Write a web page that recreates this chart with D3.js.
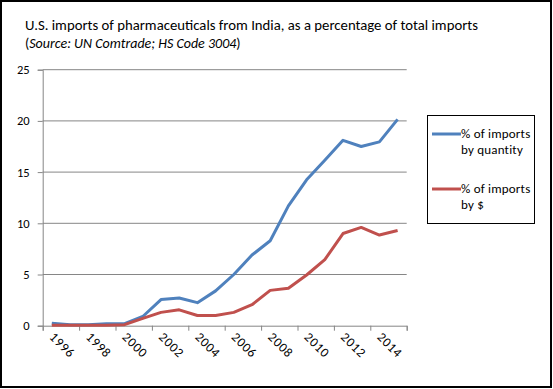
<!DOCTYPE html>
<html>
<head>
<meta charset="utf-8">
<script src="https://cdn.jsdelivr.net/npm/d3@7"></script>
<style>
  body { margin: 0; background: #fff; }
  svg { display: block; font-family: Carlito, Lato, sans-serif; }
</style>
</head>
<body>
<div id="chart"></div>
<script>
// values
const years = d3.range(1996, 2016);
const byQuantity = [0.25, 0.1, 0.1, 0.2, 0.2, 0.9, 2.55, 2.7, 2.25, 3.4, 5.0, 6.9, 8.3, 11.7, 14.25, 16.15, 18.1, 17.5, 17.95, 20.15];
const byValue = [0.05, 0.05, 0.05, 0.05, 0.1, 0.72, 1.3, 1.55, 1.0, 1.0, 1.3, 2.05, 3.45, 3.65, 4.95, 6.45, 9.0, 9.6, 8.85, 9.3];
const yTicks = [0, 5, 10, 15, 20, 25];
const xLabelYears = [1996, 1998, 2000, 2002, 2004, 2006, 2008, 2010, 2012, 2014];
const seriesNames = [["% of imports", "by quantity"], ["% of imports", "by $"]];
const colors = ["#4F81BD", "#C0504D"];

const W = 553, H = 389;
const svg = d3.select("#chart").append("svg").attr("width", W).attr("height", H);

svg.append("rect").attr("x", 1).attr("y", 1).attr("width", W - 3).attr("height", H - 3)
  .attr("fill", "#fff").attr("stroke", "#000").attr("stroke-width", 2);

// title
svg.append("text").attr("x", 25).attr("y", 30).attr("font-size", 14).attr("fill", "#000")
  .attr("textLength", 453).attr("lengthAdjust", "spacingAndGlyphs")
  .text("U.S. imports of pharmaceuticals from India, as a percentage of total imports");
const sub = svg.append("text").attr("x", 25).attr("y", 48).attr("font-size", 14).attr("fill", "#000");
sub.append("tspan").text("(");
sub.append("tspan").attr("font-style", "italic").text("Source: UN Comtrade; HS Code 3004");
sub.append("tspan").text(")");

const pLeft = 42.7, pRight = 406.7, pTop = 69.7, pBottom = 325.7;

const x = d3.scaleBand().domain(years).range([pLeft, pRight]);
const y = d3.scaleLinear().domain([0, 25]).range([pBottom, pTop]);

// gridlines
svg.append("g").selectAll("line").data(yTicks.filter(d => d > 0)).join("line")
  .attr("x1", pLeft).attr("x2", pRight)
  .attr("y1", d => y(d)).attr("y2", d => y(d))
  .attr("stroke", "#868686").attr("stroke-width", 1);

// y axis
const yAxis = svg.append("g").attr("transform", `translate(${pLeft},0)`)
  .call(d3.axisLeft(y).tickValues(yTicks).tickSize(5).tickPadding(8));
yAxis.select(".domain").attr("stroke", "#868686");
yAxis.selectAll(".tick line").attr("stroke", "#868686");
yAxis.selectAll("text").attr("font-size", 12.5).attr("fill", "#000").attr("font-family", "Carlito, Lato, sans-serif");

// x axis: tick marks every two categories
const tickYears = d3.range(1996, 2017, 2);
const xt = d3.scaleLinear().domain([1996, 2016]).range([pLeft, pRight]);
const xAxis = svg.append("g").attr("transform", `translate(0,${pBottom})`)
  .call(d3.axisBottom(xt).tickValues(tickYears).tickSize(5).tickFormat(""));
xAxis.select(".domain").attr("stroke", "#868686");
xAxis.selectAll(".tick line").attr("stroke", "#868686");

svg.append("g").selectAll("text").data(xLabelYears).join("text")
  .attr("transform", d => `translate(${x(d) + x.bandwidth() / 2 - 3},${pBottom + 12}) rotate(45)`)
  .attr("font-size", 13).attr("letter-spacing", 0.8).attr("fill", "#000")
  .text(d => d);

// lines
const line = d3.line().x((d, i) => x(years[i]) + x.bandwidth() / 2).y(d => y(d));
[byQuantity, byValue].forEach((s, i) => {
  svg.append("path").datum(s).attr("d", line)
    .attr("fill", "none").attr("stroke", colors[i]).attr("stroke-width", 3)
    .attr("stroke-linejoin", "round");
});

// legend
const lg = svg.append("g");
lg.append("rect").attr("x", 427.5).attr("y", 115.5).attr("width", 107).attr("height", 108)
  .attr("fill", "#fff").attr("stroke", "#000").attr("stroke-width", 1);
const legendY = [134, 189];
seriesNames.forEach((n, i) => {
  lg.append("line").attr("x1", 432).attr("x2", 461)
    .attr("y1", legendY[i]).attr("y2", legendY[i])
    .attr("stroke", colors[i]).attr("stroke-width", 3);
  n.forEach((t, j) => {
    lg.append("text").attr("x", 461).attr("y", legendY[i] + 4 + j * 16)
      .attr("font-size", 13).attr("letter-spacing", 0.2).attr("fill", "#000").text(t);
  });
});
</script>
</body>
</html>
